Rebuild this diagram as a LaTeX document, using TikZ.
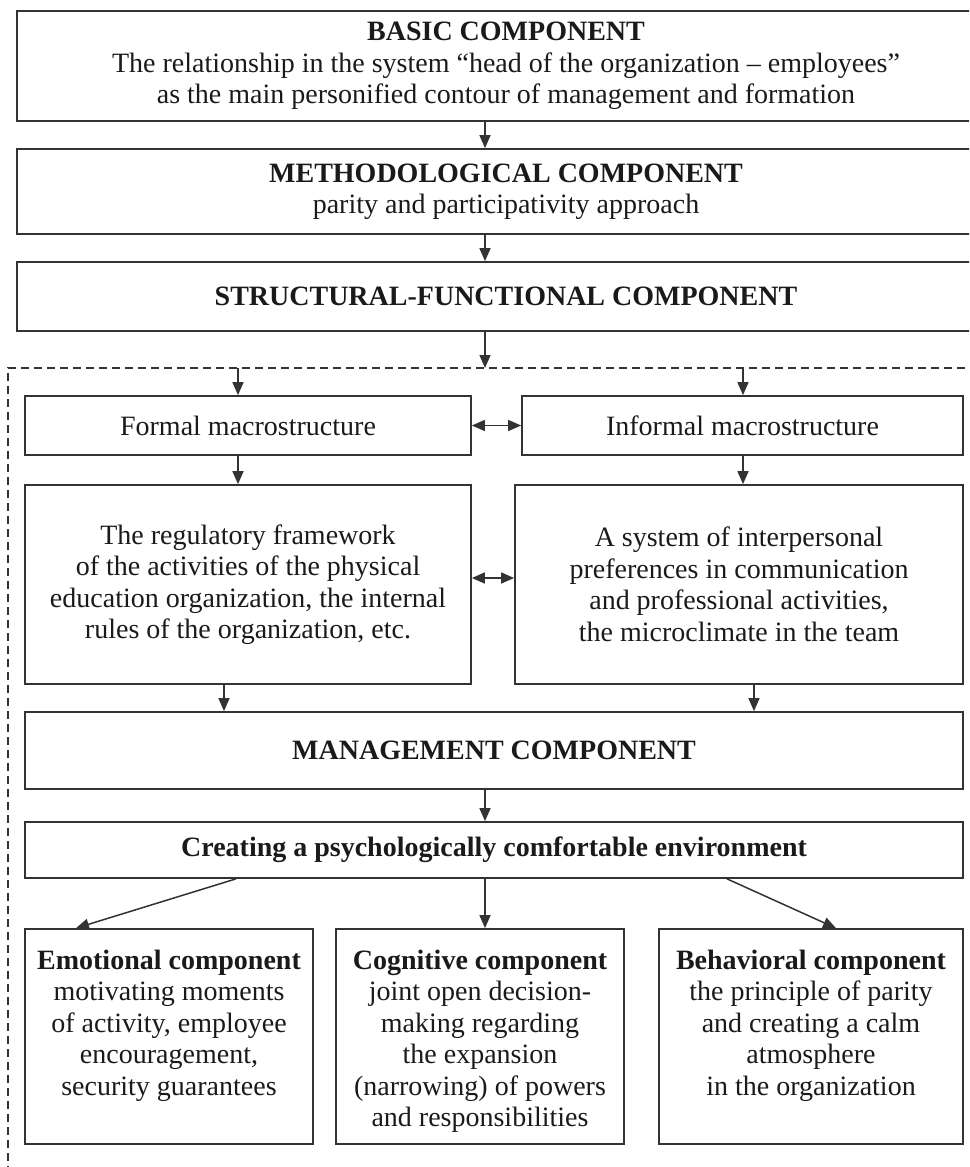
\documentclass[tikz,border=0pt]{standalone}
\usepackage{fontspec}
\setmainfont{Liberation Serif}
\usetikzlibrary{arrows.meta}
\definecolor{linec}{HTML}{333333}
\definecolor{textc}{HTML}{1A1A1A}
\newcommand{\fs}{\fontsize{28}{31.5}\selectfont}
\begin{document}
\begin{tikzpicture}[x=1pt,y=-1pt,
  box/.style={draw=linec, line width=1.7pt, inner sep=0pt, align=center, font=\fs, text=textc},
  arr/.style={draw=linec, line width=1.5pt, -{Triangle[length=13pt,width=11pt]}},
  darr/.style={draw=linec, line width=1.5pt, {Triangle[length=13pt,width=11pt]}-{Triangle[length=13pt,width=11pt]}},
  dline/.style={draw=linec, line width=1.2pt, dash pattern=on 8pt off 5pt}
]
\useasboundingbox (0,0) rectangle (969,1167);
\clip (0,0) rectangle (969,1167);

% top boxes
\node[box, minimum width=978pt, minimum height=110pt] (basic) at (506,66)
  {\textbf{BASIC COMPONENT}\\The relationship in the system “head of the organization – employees”\\as the main personified contour of management and formation};
\node[box, minimum width=978pt, minimum height=85pt] (meth) at (506,191.5)
  {\textbf{METHODOLOGICAL COMPONENT}\\parity and participativity approach};
\node[box, minimum width=978pt, minimum height=69pt] (struct) at (506,296.5)
  {\textbf{STRUCTURAL-FUNCTIONAL COMPONENT}};

% dashed frame
\coordinate (dtop) at (485,368);
\coordinate (dl) at (238,368);
\coordinate (dr) at (743,368);
\draw[dline] (8,1200) -- (8,368) -- (1000,368);

% macrostructures
\node[box, minimum width=446pt, minimum height=59pt] (formal) at (248,425.5) {Formal macrostructure};
\node[box, minimum width=441pt, minimum height=59pt] (informal) at (742.5,425.5) {Informal macrostructure};

\node[box, minimum width=446pt, minimum height=199pt] (reg) at (248,584.5)
  {The regulatory framework\\of the activities of the physical\\education organization, the internal\\rules of the organization, etc.};
\node[box, minimum width=448pt, minimum height=199pt] (inter) at (739,584.5)
  {A system of interpersonal\\preferences in communication\\and professional activities,\\the microclimate in the team};

\node[box, minimum width=938pt, minimum height=77pt] (manage) at (494,750.5) {\textbf{MANAGEMENT COMPONENT}};
\node[box, minimum width=938pt, minimum height=56pt] (create) at (494,850) {\textbf{Creating a psychologically comfortable environment}};

\node[box, minimum width=288pt, minimum height=215pt] (emo) at (169,1036.5)
  {\parbox[c][205pt][t]{284pt}{\centering\rule{0pt}{35pt}\textbf{Emotional component}\\motivating moments\\of activity, employee\\encouragement,\\security guarantees}};
\node[box, minimum width=288pt, minimum height=215pt] (cog) at (480,1036.5)
  {\parbox[c][205pt][t]{284pt}{\centering\rule{0pt}{35pt}\textbf{Cognitive component}\\joint open decision-\\making regarding\\the expansion\\(narrowing) of powers\\and responsibilities}};
\node[box, minimum width=304pt, minimum height=215pt] (beh) at (811,1036.5)
  {\parbox[c][205pt][t]{300pt}{\centering\rule{0pt}{35pt}\textbf{Behavioral component}\\the principle of parity\\and creating a calm\\atmosphere\\in the organization}};

% x positions
\coordinate (x485) at (485,0);
\coordinate (x224) at (224,0);
\coordinate (x754) at (754,0);
\coordinate (x236) at (236,0);
\coordinate (x76) at (76,0);
\coordinate (x727) at (727,0);
\coordinate (x836) at (836,0);
\coordinate (y578) at (0,578);

% arrows
\draw[arr] (basic.south -| x485) -- (meth.north -| x485);
\draw[arr] (meth.south -| x485) -- (struct.north -| x485);
\draw[arr] (struct.south -| x485) -- (dtop);
\draw[arr] (dl) -- (formal.north -| dl);
\draw[arr] (dr) -- (informal.north -| dr);
\draw[darr] (formal.east) -- (informal.west);
\draw[arr] (formal.south -| dl) -- (reg.north -| dl);
\draw[arr] (informal.south -| dr) -- (inter.north -| dr);
\draw[darr] (reg.east |- y578) -- (inter.west |- y578);
\draw[arr] (reg.south -| x224) -- (manage.north -| x224);
\draw[arr] (inter.south -| x754) -- (manage.north -| x754);
\draw[arr] (manage.south -| x485) -- (create.north -| x485);
\draw[arr] (create.south -| x236) -- (emo.north -| x76);
\draw[arr] (create.south -| x485) -- (cog.north -| x485);
\draw[arr] (create.south -| x727) -- (beh.north -| x836);
\end{tikzpicture}
\end{document}
